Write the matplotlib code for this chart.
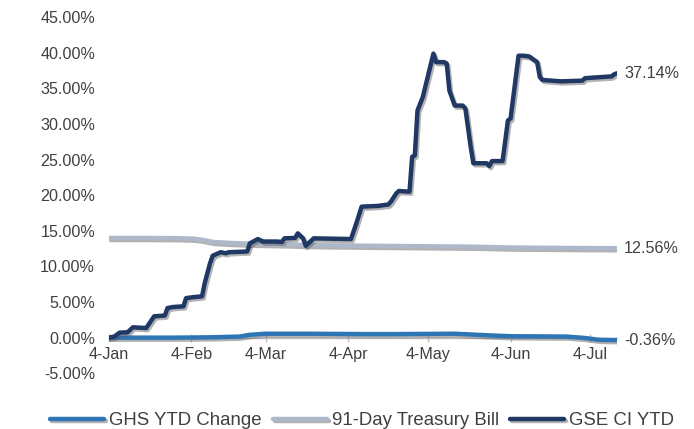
import matplotlib
matplotlib.use("Agg")
import matplotlib.pyplot as plt
import matplotlib.patheffects as pe
import pandas as pd

plt.rcParams['font.family'] = ['Liberation Sans', 'DejaVu Sans']

# ---- data ----
gse_dates = ["2021-01-04", "2021-01-06", "2021-01-08", "2021-01-11", "2021-01-13", "2021-01-18",
             "2021-01-21", "2021-01-25", "2021-01-26", "2021-01-28", "2021-02-01", "2021-02-02",
             "2021-02-05", "2021-02-08", "2021-02-09", "2021-02-11", "2021-02-12", "2021-02-15",
             "2021-02-17", "2021-02-18", "2021-02-25", "2021-02-26", "2021-03-01", "2021-03-03",
             "2021-03-08", "2021-03-10", "2021-03-11", "2021-03-15", "2021-03-16", "2021-03-18",
             "2021-03-19", "2021-03-22", "2021-04-05", "2021-04-07", "2021-04-09", "2021-04-15",
             "2021-04-19", "2021-04-20", "2021-04-22", "2021-04-23", "2021-04-27", "2021-04-28",
             "2021-04-29", "2021-04-30", "2021-05-02", "2021-05-06", "2021-05-07", "2021-05-10",
             "2021-05-11", "2021-05-12", "2021-05-14", "2021-05-17", "2021-05-18", "2021-05-20",
             "2021-05-21", "2021-05-26", "2021-05-27", "2021-05-28", "2021-06-01", "2021-06-03",
             "2021-06-04", "2021-06-07", "2021-06-09", "2021-06-11", "2021-06-14", "2021-06-15",
             "2021-06-16", "2021-06-23", "2021-07-01", "2021-07-02", "2021-07-12", "2021-07-13",
             "2021-07-14"]
gse_values = [0.00, 0.15, 0.70, 0.75, 1.45, 1.35,
              3.00, 3.10, 4.15, 4.30, 4.40, 5.55,
              5.70, 5.80, 7.65, 10.45, 11.50, 12.00,
              11.85, 12.00, 12.10, 13.25, 13.85, 13.50,
              13.50, 13.45, 13.95, 14.00, 14.65, 13.95,
              12.90, 13.95, 13.85, 16.05, 18.40, 18.50,
              18.70, 19.10, 20.25, 20.60, 20.50, 25.40,
              25.60, 31.90, 33.80, 39.90, 38.70, 38.70,
              38.50, 34.70, 32.60, 32.60, 32.20, 26.80,
              24.50, 24.50, 24.10, 24.80, 24.80, 30.50,
              30.80, 39.60, 39.60, 39.50, 38.70, 36.60,
              36.20, 36.00, 36.10, 36.45, 36.70, 37.00,
              37.14]

tbill_dates = ["2021-01-04", "2021-01-15", "2021-01-29", "2021-02-05", "2021-02-08", "2021-02-12",
               "2021-02-19", "2021-02-26", "2021-03-05", "2021-03-12", "2021-03-19", "2021-03-26",
               "2021-04-09", "2021-04-23", "2021-05-07", "2021-05-21", "2021-05-28", "2021-06-04",
               "2021-06-18", "2021-07-02", "2021-07-14"]
tbill_values = [14.00, 14.00, 13.98, 13.90, 13.75, 13.45,
                13.30, 13.20, 13.15, 13.10, 13.02, 12.98,
                12.92, 12.87, 12.82, 12.78, 12.72, 12.66,
                12.62, 12.58, 12.56]

ghs_dates = ["2021-01-04", "2021-01-29", "2021-02-12", "2021-02-22", "2021-02-26", "2021-03-04",
             "2021-03-19", "2021-04-09", "2021-04-23", "2021-05-14", "2021-05-28", "2021-06-04",
             "2021-06-25", "2021-07-02", "2021-07-07", "2021-07-14"]
ghs_values = [0.00, 0.00, 0.05, 0.15, 0.40, 0.55,
              0.55, 0.50, 0.50, 0.55, 0.30, 0.20,
              0.15, -0.05, -0.30, -0.36]

tick_dates = ["2021-01-04", "2021-02-04", "2021-03-04", "2021-04-04", "2021-05-04", "2021-06-04", "2021-07-04"]
tick_labels = ["4-Jan", "4-Feb", "4-Mar", "4-Apr", "4-May", "4-Jun", "4-Jul"]
y_ticks = [-5, 0, 5, 10, 15, 20, 25, 30, 35, 40, 45]

series_names = ["GHS YTD Change", "91-Day Treasury Bill", "GSE CI YTD"]
end_labels = ["-0.36%", "12.56%", "37.14%"]

# ---- figure ----
fig = plt.figure(figsize=(6.94, 4.29), dpi=100)
ax = fig.add_axes([0.157, 0.130, 0.732, 0.8297])

text_color = "#404040"
shadow = [pe.SimpleLineShadow(offset=(1.2, -1.5), shadow_color="#555555", alpha=0.45), pe.Normal()]

series = [
    (ghs_dates, ghs_values, "#2E75B6"),
    (tbill_dates, tbill_values, "#ADB9CA"),
    (gse_dates, gse_values, "#1F3864"),
]
handles = []
for (d, v, c), name, lab in zip(series, series_names, end_labels):
    dd = pd.to_datetime(d)
    h, = ax.plot(dd, v, color=c, lw=3.2, solid_joinstyle="round", solid_capstyle="round",
                 path_effects=shadow, label=name, zorder=3)
    handles.append(h)
    ax.annotate(lab, xy=(dd[-1], v[-1]), xytext=(5, 0), textcoords="offset points",
                va="center", ha="left", fontsize=11.6, color=text_color)

ax.set_xlim(pd.Timestamp("2021-01-04"), pd.Timestamp("2021-07-14"))
ax.set_ylim(-5, 45)
ax.set_yticks(y_ticks)
ax.set_yticklabels([f"{t:.2f}%" for t in y_ticks])
ax.set_xticks(pd.to_datetime(tick_dates))
ax.set_xticklabels(tick_labels)

for s in ["top", "right", "left"]:
    ax.spines[s].set_visible(False)
ax.spines["bottom"].set_position(("data", 0))
ax.spines["bottom"].set_color("#BFBFBF")
ax.spines["bottom"].set_linewidth(1.0)
ax.spines["bottom"].set_zorder(1)
ax.tick_params(axis="x", direction="inout", length=6, width=1, color="#BFBFBF",
               labelsize=11.6, labelcolor=text_color, pad=4)
ax.tick_params(axis="y", length=0, labelsize=11.6, labelcolor=text_color, pad=10)

fig.legend(handles=handles, labels=series_names, loc="center", bbox_to_anchor=(0.522, 0.019),
           ncol=3, frameon=False, fontsize=13.4, handlelength=2.9, handletextpad=0.27,
           columnspacing=0.6, labelcolor=text_color)

fig.savefig("out.png", dpi=100)
